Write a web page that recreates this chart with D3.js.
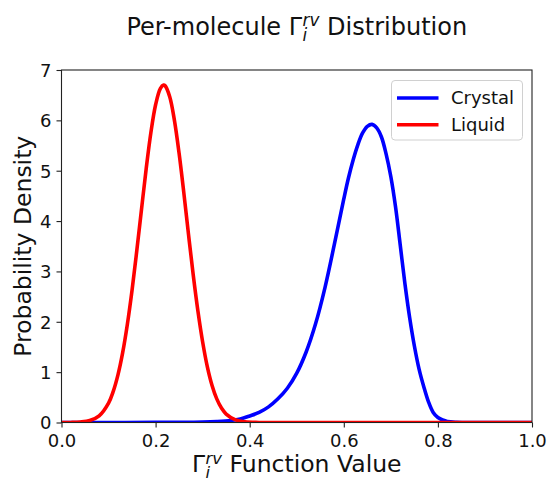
<!DOCTYPE html>
<html>
<head>
<meta charset="utf-8">
<script src="https://cdn.jsdelivr.net/npm/d3@7"></script>
<style>
  html, body { margin: 0; padding: 0; background: #fff; }
  svg { display: block; font-family: "DejaVu Sans", sans-serif; }
</style>
</head>
<body>
<svg id="chart" width="548" height="480"></svg>
<script>
// Kernel density estimates of the per-molecule order parameter
const xTicks = [0.0, 0.2, 0.4, 0.6, 0.8, 1.0];
const yTicks = [0, 1, 2, 3, 4, 5, 6, 7];
const seriesNames = ["Crystal", "Liquid"];
const seriesColors = ["#0000ff", "#ff0000"];

const crystalX = [0.00, 0.10, 0.20, 0.25, 0.30, 0.33, 0.36, 0.38, 0.40, 0.42, 0.44, 0.46, 0.48, 0.50,
                  0.52, 0.54, 0.56, 0.58, 0.60, 0.61, 0.62, 0.63, 0.64, 0.65, 0.66, 0.67, 0.68, 0.69, 0.70, 0.71,
                  0.72, 0.73, 0.74, 0.75, 0.76, 0.77, 0.78, 0.79, 0.80, 0.81, 0.82, 0.84, 0.88, 0.92, 1.00];
const crystalY = [0.000, 0.000, 0.002, 0.004, 0.010, 0.020, 0.040, 0.070, 0.130, 0.200, 0.310, 0.470, 0.680, 0.980,
                  1.400, 1.960, 2.680, 3.540, 4.440, 4.860, 5.220, 5.520, 5.750, 5.880, 5.920, 5.850, 5.670, 5.330, 4.880, 4.280,
                  3.520, 2.750, 2.080, 1.520, 1.060, 0.710, 0.410, 0.200, 0.100, 0.050, 0.020, 0.005, 0.001, 0.000, 0.000];

const liquidX = [0.00, 0.02, 0.04, 0.06, 0.08, 0.10, 0.11, 0.12, 0.13, 0.14, 0.15, 0.16, 0.17, 0.18, 0.19,
                 0.20, 0.21, 0.217, 0.22, 0.23, 0.24, 0.25, 0.26, 0.27, 0.28, 0.29, 0.30, 0.31, 0.32, 0.33,
                 0.34, 0.35, 0.37, 0.39, 0.42, 0.50, 0.60, 0.70, 0.80, 0.90, 1.00];
const liquidY = [0.000, 0.001, 0.010, 0.040, 0.134, 0.387, 0.618, 0.945, 1.386, 1.950, 2.630, 3.410, 4.230, 5.040, 5.760,
                 6.310, 6.630, 6.700, 6.690, 6.470, 6.000, 5.340, 4.560, 3.730, 2.930, 2.210, 1.600, 1.106, 0.736, 0.469,
                 0.287, 0.168, 0.051, 0.013, 0.001, 0.000, 0.000, 0.000, 0.000, 0.000, 0.000];

const svg = d3.select("#chart");
const W = 548, H = 480;
const margin = { left: 61.5, right: W - 532, top: 70, bottom: H - 422.5 };
const plotW = W - margin.left - margin.right;
const plotH = H - margin.top - margin.bottom;

svg.append("rect").attr("width", W).attr("height", H).attr("fill", "#fff");

const x = d3.scaleLinear().domain([0, 1]).range([margin.left, margin.left + plotW]);
const y = d3.scaleLinear().domain([0, 7]).range([margin.top + plotH, margin.top]);

const axisColor = "#222";
const tickFont = 18;

// Curves
const line = d3.line()
  .x(d => x(d[0]))
  .y(d => y(Math.max(0, d[1])))
  .curve(d3.curveCatmullRom.alpha(0.5));

svg.append("clipPath").attr("id", "plotclip")
  .append("rect")
  .attr("x", margin.left).attr("y", margin.top - 5)
  .attr("width", plotW).attr("height", plotH + 5);

const curves = svg.append("g").attr("clip-path", "url(#plotclip)");
const seriesData = [
  crystalX.map((v, i) => [v, crystalY[i]]),
  liquidX.map((v, i) => [v, liquidY[i]])
];
seriesData.forEach((pts, i) => {
  curves.append("path")
    .datum(pts)
    .attr("d", line)
    .attr("fill", "none")
    .attr("stroke", seriesColors[i])
    .attr("stroke-width", 3.6)
    .attr("stroke-linejoin", "round")
    .attr("stroke-linecap", "butt");
});

// Axes
const xAxis = svg.append("g")
  .attr("transform", `translate(0,${margin.top + plotH})`)
  .call(d3.axisBottom(x).tickValues(xTicks).tickFormat(d3.format(".1f")).tickSizeOuter(0).tickSize(5).tickPadding(4));
const yAxis = svg.append("g")
  .attr("transform", `translate(${margin.left},0)`)
  .call(d3.axisLeft(y).tickValues(yTicks).tickFormat(d3.format("d")).tickSizeOuter(0).tickSize(5).tickPadding(5));

[xAxis, yAxis].forEach(g => {
  g.select(".domain").remove();
  g.selectAll(".tick line").attr("stroke", axisColor).attr("stroke-width", 1.1);
  g.selectAll(".tick text")
    .attr("fill", "#111")
    .attr("font-size", tickFont)
    .attr("font-family", "DejaVu Sans, sans-serif");
});
xAxis.selectAll(".tick text").attr("dy", "0.85em");
yAxis.selectAll(".tick text").attr("dy", "0.36em");

// Frame
svg.append("rect")
  .attr("x", margin.left).attr("y", margin.top)
  .attr("width", plotW).attr("height", plotH)
  .attr("fill", "none")
  .attr("stroke", axisColor)
  .attr("stroke-width", 1.1);

// Text with Γ carrying stacked sub/superscripts
function mathLabel(sel, before, after, size) {
  const t = sel.append("text")
    .attr("font-size", size)
    .attr("fill", "#111")
    .attr("text-anchor", "middle");
  t.append("tspan").text(before + "Γ");
  const small = size * 0.7;
  const up = size * 0.36, down = size * 0.24;
  const sup = t.append("tspan").attr("font-size", small).attr("font-style", "italic")
    .attr("dx", 0.5).attr("dy", -up).text("rv");
  const sub = t.append("tspan").attr("font-size", small).attr("font-style", "italic")
    .attr("dy", up + down).text("i");
  const rest = t.append("tspan").attr("dy", -down).text(after);
  const wSup = sup.node().getComputedTextLength();
  const wSub = sub.node().getComputedTextLength();
  sub.attr("dx", -wSup);
  rest.attr("dx", wSup - wSub);
  return t;
}

mathLabel(svg, "Per-molecule ", " Distribution", 24)
  .attr("x", (margin.left + margin.left + plotW) / 2)
  .attr("y", 35);

mathLabel(svg, "", " Function Value", 23.5)
  .attr("x", (margin.left + margin.left + plotW) / 2)
  .attr("y", 472);

svg.append("text")
  .attr("transform", `translate(30.5,${margin.top + plotH / 2}) rotate(-90)`)
  .attr("text-anchor", "middle")
  .attr("font-size", 23.5)
  .attr("fill", "#111")
  .text("Probability Density");

// Legend
const lg = svg.append("g").attr("transform", "translate(391.5,80.5)");
lg.append("rect")
  .attr("width", 131).attr("height", 59.5)
  .attr("rx", 3.5)
  .attr("fill", "#fff").attr("fill-opacity", 0.8)
  .attr("stroke", "#d0d0d0").attr("stroke-width", 1);
seriesNames.forEach((name, i) => {
  const cy = 17.5 + i * 26.7;
  lg.append("line")
    .attr("x1", 5.5).attr("x2", 47)
    .attr("y1", cy).attr("y2", cy)
    .attr("stroke", seriesColors[i]).attr("stroke-width", 3.6);
  lg.append("text")
    .attr("x", 59.5).attr("y", cy).attr("dy", "0.36em")
    .attr("font-size", 18).attr("fill", "#111")
    .text(name);
});
</script>
</body>
</html>
